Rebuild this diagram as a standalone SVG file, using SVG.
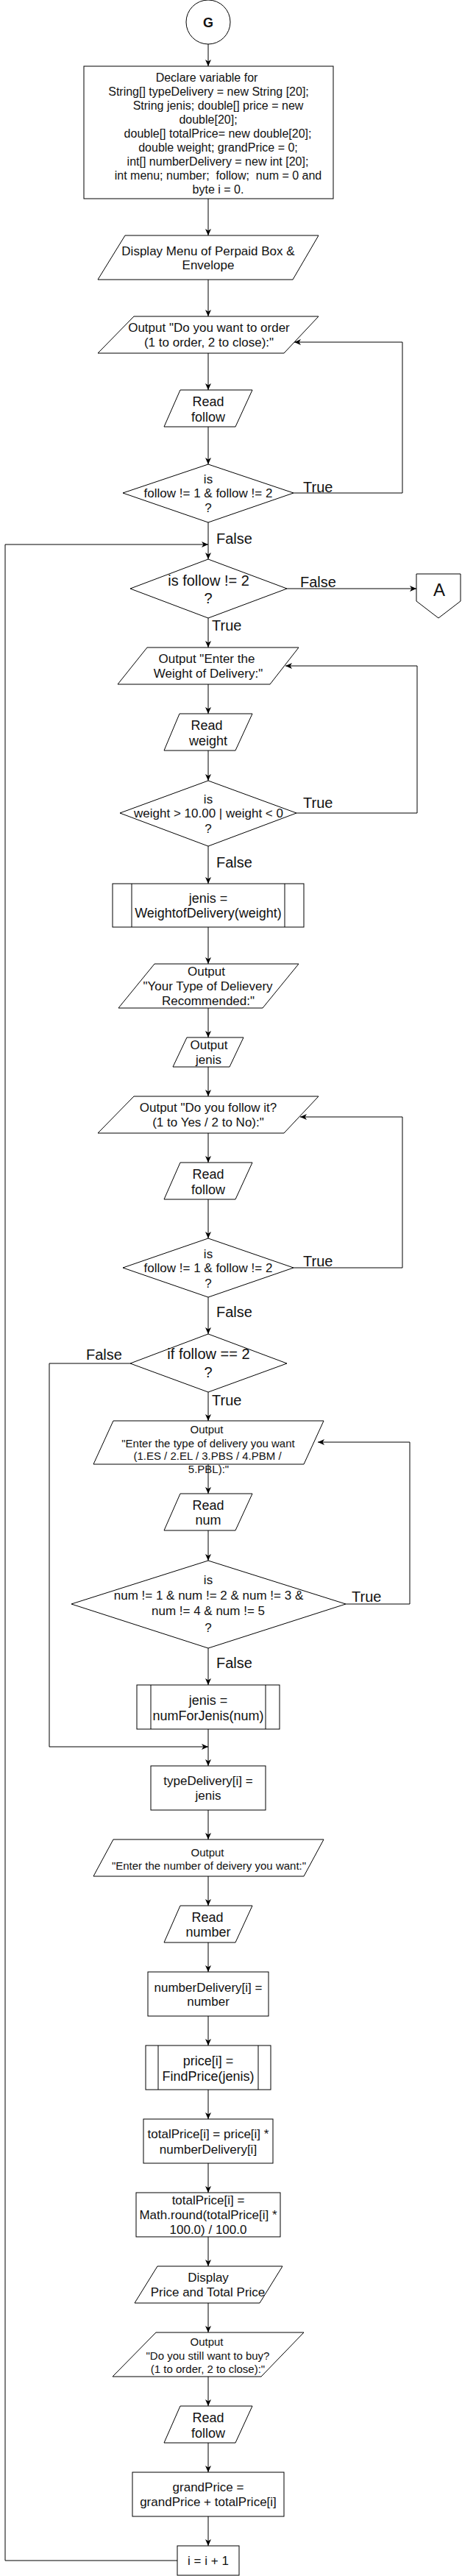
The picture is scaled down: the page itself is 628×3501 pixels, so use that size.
<svg xmlns="http://www.w3.org/2000/svg" width="628" height="3501" viewBox="0 0 628 3501">
<defs>
<marker id="arr" markerUnits="userSpaceOnUse" markerWidth="10" markerHeight="9" refX="9" refY="4" orient="auto">
<path d="M0,0 L9,4 L0,8 L2.5,4 Z" fill="#000"/>
</marker>
</defs>
<style>
.s{fill:#fff;stroke:#000;stroke-width:1}
.e{fill:none;stroke:#000;stroke-width:1;marker-end:url(#arr)}
.l{fill:none;stroke:#000;stroke-width:1}
text{font-family:"Liberation Sans",Arial,sans-serif;fill:#111;text-anchor:middle}
.f15{font-size:15px}
.f16{font-size:16px}
.f17{font-size:17px}
.f18{font-size:18px}
.f20{font-size:20px}
.lb{font-size:20px;text-anchor:start}
</style>
<rect width="628" height="3501" fill="#fff"/>
<g id="connectors">
<path class="e" d="M283,60 L283,90"/>
<path class="e" d="M283,270 L283,320"/>
<path class="e" d="M283,380 L283,430"/>
<path class="e" d="M283,480 L283,530"/>
<path class="e" d="M283,580 L283,631"/>
<path class="e" d="M399,670 L547,670 L547,465 L400,465"/>
<path class="e" d="M283,710 L283,760"/>
<path class="e" d="M241,3480 L7,3480 L7,740 L283,740"/>
<path class="e" d="M390,800 L566,800"/>
<path class="e" d="M283,840 L283,880"/>
<path class="e" d="M283,930 L283,970"/>
<path class="e" d="M283,1020 L283,1061"/>
<path class="e" d="M403,1105 L567,1105 L567,905 L388,905"/>
<path class="e" d="M283,1150 L283,1201"/>
<path class="e" d="M283,1260 L283,1310"/>
<path class="e" d="M283,1370 L283,1410"/>
<path class="e" d="M283,1450 L283,1490"/>
<path class="e" d="M283,1540 L283,1580"/>
<path class="e" d="M283,1630 L283,1683"/>
<path class="e" d="M399,1723 L547,1723 L547,1518 L408,1518"/>
<path class="e" d="M283,1763 L283,1813"/>
<path class="e" d="M177,1853 L67,1853 L67,2374 L283,2374"/>
<path class="e" d="M283,1892 L283,1931"/>
<path class="e" d="M283,1990 L283,2030"/>
<path class="e" d="M283,2080 L283,2121"/>
<path class="e" d="M470,2180 L557,2180 L557,1960 L432,1960"/>
<path class="e" d="M283,2240 L283,2290"/>
<path class="e" d="M283,2350 L283,2400"/>
<path class="e" d="M283,2460 L283,2500"/>
<path class="e" d="M283,2550 L283,2590"/>
<path class="e" d="M283,2640 L283,2680"/>
<path class="e" d="M283,2740 L283,2780"/>
<path class="e" d="M283,2840 L283,2880"/>
<path class="e" d="M283,2940 L283,2980"/>
<path class="e" d="M283,3040 L283,3080"/>
<path class="e" d="M283,3130 L283,3170"/>
<path class="e" d="M283,3230 L283,3270"/>
<path class="e" d="M283,3320 L283,3360"/>
<path class="e" d="M283,3420 L283,3460"/>
<text class="lb" x="412" y="669">True</text>
<text class="lb" x="294" y="739">False</text>
<text class="lb" x="408" y="798">False</text>
<text class="lb" x="288" y="857">True</text>
<text class="lb" x="412" y="1098">True</text>
<text class="lb" x="294" y="1179">False</text>
<text class="lb" x="412" y="1721">True</text>
<text class="lb" x="294" y="1790">False</text>
<text class="lb" x="117" y="1848">False</text>
<text class="lb" x="288" y="1910">True</text>
<text class="lb" x="478" y="2177">True</text>
<text class="lb" x="294" y="2267">False</text>
</g>
<g id="start">
<circle class="s" cx="283" cy="30" r="30"/>
<text x="283" y="37" style="font-size:18px;font-weight:bold">G</text>
</g>
<g id="declare">
<rect class="s" x="114" y="90" width="339" height="180"/>
<text class="f16" x="281" y="111">Declare variable for</text>
<text class="f16" x="283.5" y="130">String[] typeDelivery = new String [20];</text>
<text class="f16" x="296.5" y="149">String jenis; double[] price = new</text>
<text class="f16" x="283" y="168">double[20];</text>
<text class="f16" x="296" y="187">double[] totalPrice= new double[20];</text>
<text class="f16" x="296.5" y="206">double weight; grandPrice = 0;</text>
<text class="f16" x="296" y="225">int[] numberDelivery = new int [20];</text>
<text class="f16" x="296.5" y="244" xml:space="preserve">int menu; number;  follow;  num = 0 and</text>
<text class="f16" x="296.5" y="263">byte i = 0.</text>
</g>
<g id="display-menu">
<polygon class="s" points="170,320 433,320 398,380 133,380"/>
<text class="f17" x="283" y="347">Display Menu of Perpaid Box &amp;</text>
<text class="f17" x="283" y="366">Envelope</text>
</g>
<g id="output-order">
<polygon class="s" points="182,430 433,430 386,480 133,480"/>
<text class="f17" x="284" y="451">Output "Do you want to order</text>
<text class="f17" x="284" y="471">(1 to order, 2 to close):"</text>
</g>
<g id="read-follow-1">
<polygon class="s" points="245,530 343,530 320,580 223,580"/>
<text class="f18" x="283" y="551.5">Read</text>
<text class="f18" x="283" y="572.5">follow</text>
</g>
<g id="decision-follow-1">
<polygon class="s" points="283,631 399,670 283,710 167,670"/>
<text class="f17" x="283" y="657">is</text>
<text class="f17" x="283" y="676">follow != 1 &amp; follow != 2</text>
<text class="f17" x="283" y="696">?</text>
</g>
<g id="decision-follow-2">
<polygon class="s" points="283,760 390,800 283,840 177,800"/>
<text class="f20" x="283.5" y="796">is follow != 2</text>
<text class="f20" x="283" y="820">?</text>
</g>
<g id="offpage-A">
<polygon class="s" points="566,780 626,780 626,817 596,840 566,817"/>
<text x="597" y="810" style="font-size:24px">A</text>
</g>
<g id="output-weight">
<polygon class="s" points="200,880 406,880 367,930 160,930"/>
<text class="f17" x="281" y="901">Output "Enter the</text>
<text class="f17" x="283" y="921">Weight of Delivery:"</text>
</g>
<g id="read-weight">
<polygon class="s" points="244,970 343,970 320,1020 223,1020"/>
<text class="f18" x="281" y="991.5">Read</text>
<text class="f18" x="283" y="1012.5">weight</text>
</g>
<g id="decision-weight">
<polygon class="s" points="283,1061 403,1105 283,1150 163,1105"/>
<text class="f17" x="283" y="1092">is</text>
<text class="f17" x="283.5" y="1111">weight &gt; 10.00 | weight &lt; 0</text>
<text class="f17" x="283" y="1132">?</text>
</g>
<g id="sub-weightofdelivery">
<rect class="s" x="153" y="1201" width="260" height="59"/>
<path class="l" d="M179,1201 L179,1260 M387,1201 L387,1260"/>
<text class="f18" x="283" y="1226.5">jenis =</text>
<text class="f18" x="283" y="1246.5">WeightofDelivery(weight)</text>
</g>
<g id="output-type-recommended">
<polygon class="s" points="210,1310 406,1310 357,1370 161,1370"/>
<text class="f17" x="280.5" y="1326">Output</text>
<text class="f17" x="282.5" y="1346">"Your Type of Delievery</text>
<text class="f17" x="283" y="1366">Recommended:"</text>
</g>
<g id="output-jenis">
<polygon class="s" points="254,1410 331,1410 312,1450 235,1450"/>
<text class="f17" x="284" y="1426">Output</text>
<text class="f17" x="283.5" y="1446">jenis</text>
</g>
<g id="output-follow-it">
<polygon class="s" points="182,1490 433,1490 386,1540 133,1540"/>
<text class="f17" x="283" y="1511">Output "Do you follow it?</text>
<text class="f17" x="283" y="1531">(1 to Yes / 2 to No):"</text>
</g>
<g id="read-follow-2">
<polygon class="s" points="245,1580 343,1580 320,1630 223,1630"/>
<text class="f18" x="283" y="1601.5">Read</text>
<text class="f18" x="283" y="1622.5">follow</text>
</g>
<g id="decision-follow-3">
<polygon class="s" points="283,1683 399,1723 283,1763 167,1723"/>
<text class="f17" x="283" y="1710">is</text>
<text class="f17" x="283" y="1729">follow != 1 &amp; follow != 2</text>
<text class="f17" x="283" y="1750">?</text>
</g>
<g id="decision-follow-4">
<polygon class="s" points="283,1813 390,1853 283,1892 177,1853"/>
<text class="f20" x="283.5" y="1847">if follow == 2</text>
<text class="f20" x="283" y="1872">?</text>
</g>
<g id="output-type">
<polygon class="s" points="154,1931 440,1931 413,1990 127,1990"/>
<text class="f15" x="281" y="1948">Output</text>
<text class="f15" x="283" y="1967">"Enter the type of delivery you want</text>
<text class="f15" x="282" y="1984">(1.ES / 2.EL / 3.PBS / 4.PBM /</text>
<text class="f15" x="283.5" y="2002">5.PBL):"</text>
</g>
<g id="read-num">
<polygon class="s" points="245,2030 343,2030 320,2080 223,2080"/>
<text class="f18" x="283" y="2051.5">Read</text>
<text class="f18" x="283" y="2071.5">num</text>
</g>
<g id="decision-num">
<polygon class="s" points="283,2121 470,2180 283,2240 97,2180"/>
<text class="f17" x="283" y="2153">is</text>
<text class="f17" x="283.5" y="2174">num != 1 &amp; num != 2 &amp; num != 3 &amp;</text>
<text class="f17" x="283" y="2195">num != 4 &amp; num != 5</text>
<text class="f17" x="283" y="2218">?</text>
</g>
<g id="sub-numforjenis">
<rect class="s" x="186" y="2290" width="194" height="60"/>
<path class="l" d="M205,2290 L205,2350 M361,2290 L361,2350"/>
<text class="f18" x="283" y="2316.5">jenis =</text>
<text class="f18" x="283" y="2337.5">numForJenis(num)</text>
</g>
<g id="assign-type">
<rect class="s" x="205" y="2400" width="156" height="60"/>
<text class="f17" x="283" y="2426">typeDelivery[i] =</text>
<text class="f17" x="283" y="2446">jenis</text>
</g>
<g id="output-number">
<polygon class="s" points="154,2500 440,2500 413,2550 127,2550"/>
<text class="f15" x="282" y="2523">Output</text>
<text class="f15" x="284" y="2541">"Enter the number of deivery you want:"</text>
</g>
<g id="read-number">
<polygon class="s" points="245,2590 343,2590 320,2640 223,2640"/>
<text class="f18" x="282" y="2611.5">Read</text>
<text class="f18" x="283" y="2631.5">number</text>
</g>
<g id="assign-number">
<rect class="s" x="201" y="2680" width="164" height="60"/>
<text class="f17" x="283" y="2707">numberDelivery[i] =</text>
<text class="f17" x="283" y="2726">number</text>
</g>
<g id="sub-findprice">
<rect class="s" x="198" y="2780" width="170" height="60"/>
<path class="l" d="M215,2780 L215,2840 M351,2780 L351,2840"/>
<text class="f18" x="283" y="2806.5">price[i] =</text>
<text class="f18" x="283" y="2827.5">FindPrice(jenis)</text>
</g>
<g id="calc-total">
<rect class="s" x="195" y="2880" width="176" height="60"/>
<text class="f17" x="283" y="2906">totalPrice[i] = price[i] *</text>
<text class="f17" x="283" y="2927">numberDelivery[i]</text>
</g>
<g id="round-total">
<rect class="s" x="185" y="2980" width="196" height="60"/>
<text class="f17" x="283" y="2996">totalPrice[i] =</text>
<text class="f17" x="283" y="3016">Math.round(totalPrice[i] *</text>
<text class="f17" x="283" y="3036">100.0) / 100.0</text>
</g>
<g id="display-price">
<polygon class="s" points="214,3080 384,3080 353,3130 183,3130"/>
<text class="f17" x="283" y="3101">Display</text>
<text class="f17" x="282.5" y="3121">Price and Total Price</text>
</g>
<g id="output-buy">
<polygon class="s" points="212,3170 413,3170 355,3230 153,3230"/>
<text class="f15" x="281" y="3188">Output</text>
<text class="f15" x="282.5" y="3207">"Do you still want to buy?</text>
<text class="f15" x="282.5" y="3225">(1 to order, 2 to close):"</text>
</g>
<g id="read-follow-3">
<polygon class="s" points="245,3270 343,3270 320,3320 223,3320"/>
<text class="f18" x="283" y="3291.5">Read</text>
<text class="f18" x="283" y="3312.5">follow</text>
</g>
<g id="grand-price">
<rect class="s" x="180" y="3360" width="206" height="60"/>
<text class="f17" x="283" y="3386">grandPrice =</text>
<text class="f17" x="283" y="3406">grandPrice + totalPrice[i]</text>
</g>
<g id="increment">
<rect class="s" x="241" y="3460" width="84" height="40"/>
<text class="f17" x="283" y="3486">i = i + 1</text>
</g>
</svg>
